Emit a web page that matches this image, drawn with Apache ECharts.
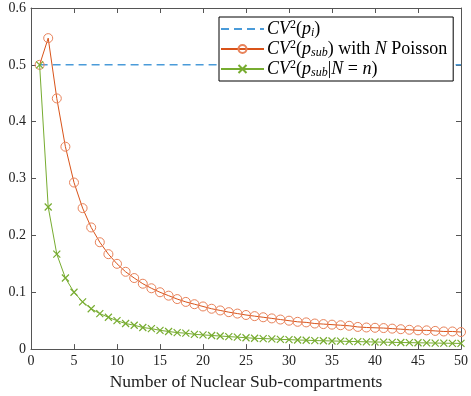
<!DOCTYPE html>
<html>
<head>
<meta charset="utf-8">
<script src="https://cdn.jsdelivr.net/npm/echarts@6/dist/echarts.min.js"></script>
<style>html,body{margin:0;padding:0;background:#fff;}#c{width:471px;height:396px;}</style>
</head>
<body>
<div id="c"></div>
<script>
var nValues = [1,2,3,4,5,6,7,8,9,10,11,12,13,14,15,16,17,18,19,20,21,22,23,24,25,26,27,28,29,30,31,32,33,34,35,36,37,38,39,40,41,42,43,44,45,46,47,48,49,50];
var cvPi = [0.5,0.5,0.5,0.5,0.5,0.5,0.5,0.5,0.5,0.5,0.5,0.5,0.5,0.5,0.5,0.5,0.5,0.5,0.5,0.5,0.5,0.5,0.5,0.5,0.5,0.5,0.5,0.5,0.5,0.5,0.5,0.5,0.5,0.5,0.5,0.5,0.5,0.5,0.5,0.5,0.5,0.5,0.5,0.5,0.5,0.5,0.5,0.5,0.5,0.5];
var cvPoisson = [0.5,0.547,0.441,0.356,0.293,0.248,0.214,0.188,0.167,0.150,0.136,0.125,0.115,0.107,0.100,0.094,0.088,0.083,0.079,0.075,0.071,0.068,0.065,0.0625,0.060,0.058,0.056,0.054,0.052,0.050,0.048,0.047,0.045,0.044,0.043,0.042,0.041,0.039,0.038,0.0375,0.037,0.036,0.035,0.034,0.033,0.033,0.032,0.031,0.031,0.030];
var cvFixed = [0.5,0.25,0.167,0.125,0.1,0.083,0.071,0.0625,0.056,0.05,0.045,0.042,0.038,0.036,0.033,0.031,0.029,0.028,0.026,0.025,0.024,0.023,0.022,0.021,0.020,0.019,0.0185,0.018,0.017,0.0167,0.016,0.0156,0.015,0.0147,0.0143,0.0139,0.0135,0.0132,0.0128,0.0125,0.0122,0.0119,0.0116,0.0114,0.0111,0.0109,0.0106,0.0104,0.0102,0.010];
var xTicks = [0,5,10,15,20,25,30,35,40,45,50];
var yTicks = [0,0.1,0.2,0.3,0.4,0.5,0.6];
var seriesNames = ['pi','poisson','fixed'];
var xLabel = 'Number of Nuclear Sub-compartments';

function pairs(ys){ return nValues.map(function(n,i){ return [n, ys[i]]; }); }

var FONT = 'Liberation Serif';
var axisColor = '#555';
var chart = echarts.init(document.getElementById('c'), null, {renderer:'canvas'});
var legendText = {
  pi: '{i|CV}{sup|2}{n|(}{i|p}{sub|i}{n|)}',
  poisson: '{i|CV}{sup|2}{n|(}{i|p}{sub|sub}{n|) with }{i|N}{n| Poisson}',
  fixed: '{i|CV}{sup|2}{n|(}{i|p}{sub|sub}{n||}{i|N}{n| = }{i|n}{n|)}'
};
function baseAxis(extra){
  return Object.assign({
    axisLine:{show:true, onZero:false, lineStyle:{color:axisColor, width:1}},
    axisTick:{show:true, inside:true, length:5, lineStyle:{color:axisColor}},
    splitLine:{show:false}
  }, extra);
}
chart.setOption({
  animation:false,
  backgroundColor:'#fff',
  grid:{left:31, right:4, top:8, bottom:44, containLabel:false},
  legend:{
    orient:'vertical', left:219, top:17,
    padding:[2,6,2,1], itemGap:0,
    itemWidth:43, itemHeight:10,
    borderColor:'#000', borderWidth:1, backgroundColor:'#fff',
    data: [{name:'pi', itemStyle:{opacity:0}}, 'poisson', 'fixed'],
    formatter:function(name){ return legendText[name]; },
    textStyle:{
      fontFamily:FONT, fontSize:18, color:'#000', padding:[0,0,0,-2],
      rich:{
        i:{fontFamily:FONT, fontStyle:'italic', fontSize:18, lineHeight:20, color:'#000'},
        n:{fontFamily:FONT, fontSize:18, lineHeight:20, color:'#000'},
        sup:{fontFamily:FONT, fontSize:12, lineHeight:12, verticalAlign:'top', color:'#000'},
        sub:{fontFamily:FONT, fontStyle:'italic', fontSize:12, lineHeight:9, verticalAlign:'bottom', color:'#000'}
      }
    }
  },
  xAxis:[
    baseAxis({
      type:'value', min:0, max:50, interval:5, position:'bottom',
      name:xLabel, nameLocation:'middle', nameGap:23,
      nameTextStyle:{fontFamily:FONT, fontSize:17.5, color:'#222'},
      axisLabel:{fontFamily:FONT, fontSize:14, color:'#222', margin:5,
        formatter:function(v){ return xTicks.indexOf(v)>=0 ? String(v) : ''; }}
    }),
    baseAxis({
      type:'value', min:0, max:50, interval:5, position:'top', axisLabel:{show:false}
    })
  ],
  yAxis:[
    baseAxis({
      type:'value', min:0, max:0.6, interval:0.1, position:'left',
      axisLabel:{fontFamily:FONT, fontSize:14, color:'#222', margin:5,
        formatter:function(v){ var r=Math.round(v*10)/10; return yTicks.indexOf(r)>=0 ? (r===0?'0':r.toFixed(1)) : ''; }}
    }),
    baseAxis({
      type:'value', min:0, max:0.6, interval:0.1, position:'right', axisLabel:{show:false}
    })
  ],
  series:[
    {
      name:'pi', type:'line', data:pairs(cvPi), symbol:'none',
      lineStyle:{color:'#4a9bd9', width:1.5, type:[8,5]},
      itemStyle:{color:'#4a9bd9'}, z:2
    },
    {
      name:'poisson', type:'line', data:pairs(cvPoisson),
      symbol:'circle', symbolSize:9,
      lineStyle:{color:'#D95319', width:1},
      itemStyle:{color:'rgba(0,0,0,0)', borderColor:'#E8825A', borderWidth:1}, z:3
    },
    {
      name:'fixed', type:'line', data:pairs(cvFixed),
      symbol:'path://M0,0L10,10M10,0L0,10', symbolSize:7,
      lineStyle:{color:'#77AC30', width:1},
      itemStyle:{color:'rgba(0,0,0,0)', borderColor:'#77AC30', borderWidth:1.2}, z:4
    }
  ]
});
</script>
</body>
</html>
